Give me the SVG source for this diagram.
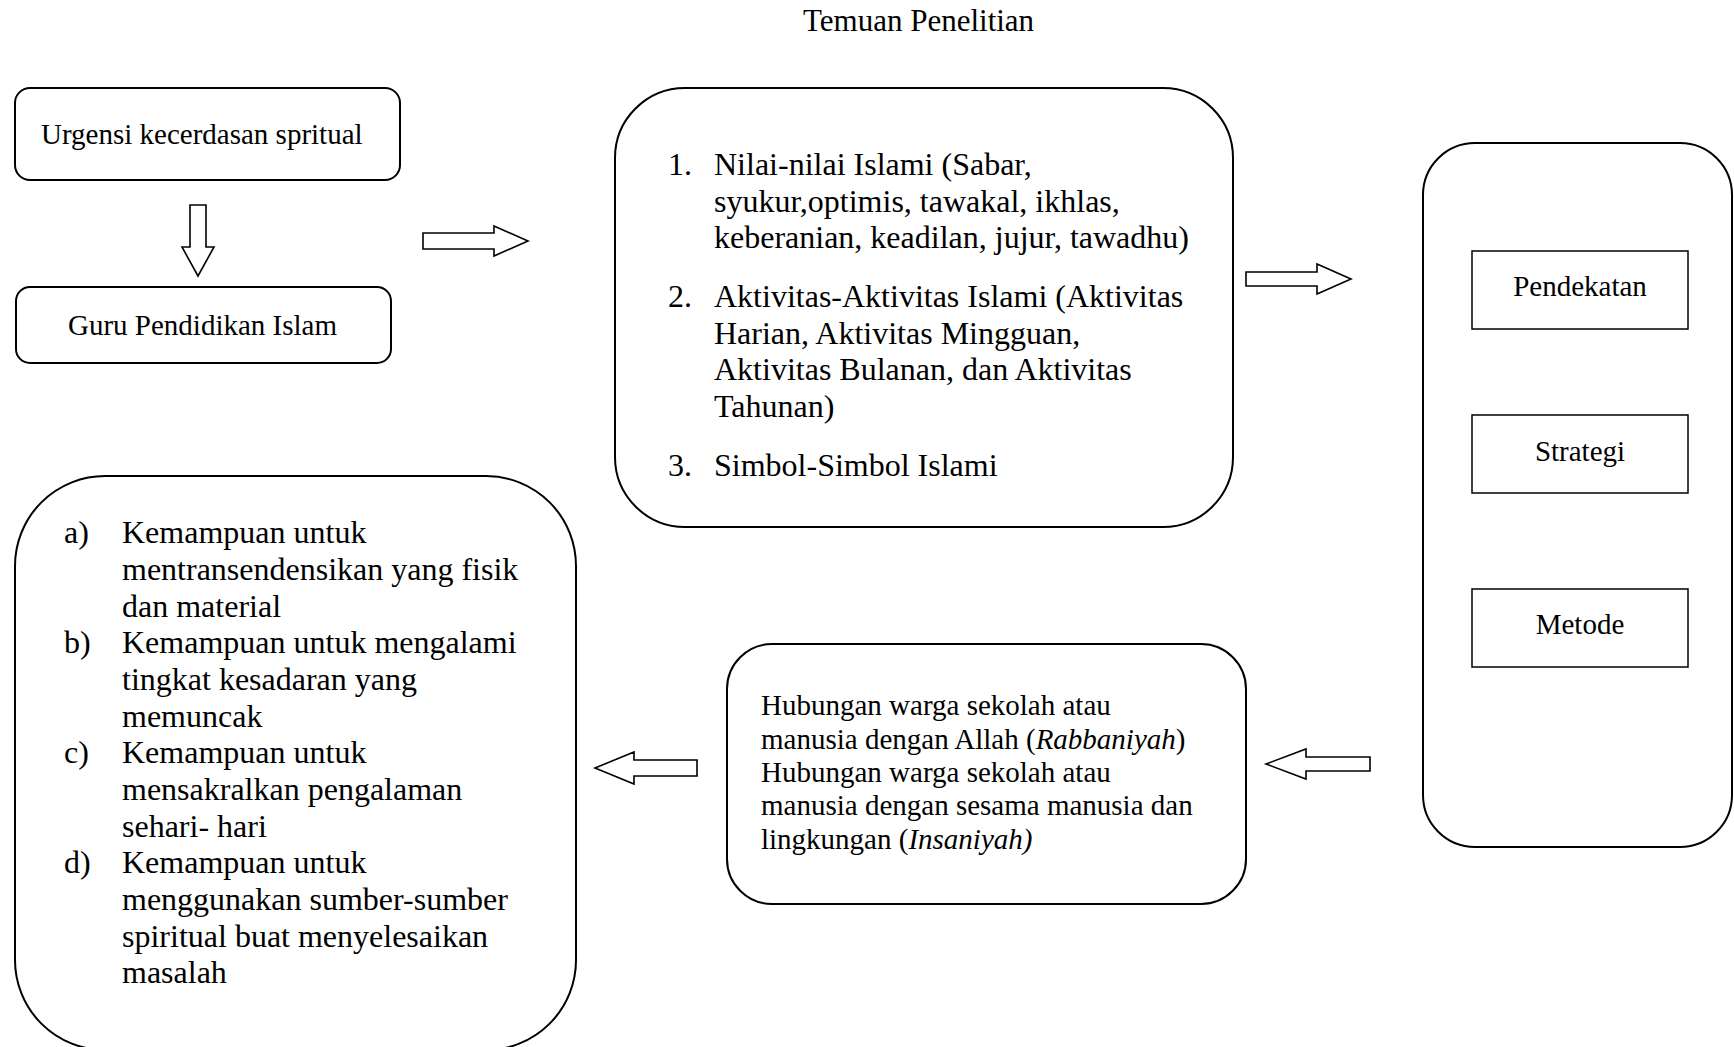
<svg xmlns="http://www.w3.org/2000/svg" width="1734" height="1047" viewBox="0 0 1734 1047">
  <style>
    text { font-family: "Liberation Serif", "Times New Roman", serif; fill: #000; }
    .t29 { font-size: 29px; }
    .t32 { font-size: 32px; }
    .t31 { font-size: 31px; }
    .box { fill: #fff; stroke: #000; stroke-width: 2; }
    .rect { fill: #fff; stroke: #000; stroke-width: 1.5; }
    .arrow { fill: #fff; stroke: #000; stroke-width: 1.6; stroke-linejoin: miter; }
    .it { font-style: italic; }
  </style>

  <rect width="1734" height="1047" fill="#fff"/>

  <text id="title" class="t31" x="803" y="31">Temuan Penelitian</text>

  <g id="urgensi">
    <rect class="box" x="15" y="88" width="385" height="92" rx="15"/>
    <text class="t29" x="41" y="144">Urgensi kecerdasan spritual</text>
  </g>

  <g id="guru">
    <rect class="box" x="16" y="287" width="375" height="76" rx="14"/>
    <text class="t29" x="68" y="335">Guru Pendidikan Islam</text>
  </g>

  <g id="temuan">
    <rect class="box" x="615" y="88" width="618" height="439" rx="70"/>
    <g class="t32">
      <text x="668" y="175">1.</text>
      <text x="714" y="175">Nilai-nilai Islami (Sabar,</text>
      <text x="714" y="211.5">syukur,optimis, tawakal, ikhlas,</text>
      <text x="714" y="248">keberanian, keadilan, jujur, tawadhu)</text>
      <text x="668" y="307">2.</text>
      <text x="714" y="307">Aktivitas-Aktivitas Islami (Aktivitas</text>
      <text x="714" y="343.5">Harian, Aktivitas Mingguan,</text>
      <text x="714" y="380">Aktivitas Bulanan, dan Aktivitas</text>
      <text x="714" y="416.5">Tahunan)</text>
      <text x="668" y="475.5">3.</text>
      <text x="714" y="475.5">Simbol-Simbol Islami</text>
    </g>
  </g>

  <g id="komponen">
    <rect class="box" x="1423" y="143" width="309" height="704" rx="52"/>
    <g id="pendekatan">
      <rect class="rect" x="1472" y="251" width="216" height="78"/>
      <text class="t29" x="1580" y="296" text-anchor="middle">Pendekatan</text>
    </g>
    <g id="strategi">
      <rect class="rect" x="1472" y="415" width="216" height="78"/>
      <text class="t29" x="1580" y="461" text-anchor="middle">Strategi</text>
    </g>
    <g id="metode">
      <rect class="rect" x="1472" y="589" width="216" height="78"/>
      <text class="t29" x="1580" y="634" text-anchor="middle">Metode</text>
    </g>
  </g>

  <g id="hubungan">
    <rect class="box" x="727" y="644" width="519" height="260" rx="45"/>
    <g class="t29">
      <text x="761" y="715">Hubungan warga sekolah atau</text>
      <text x="761" y="748.5">manusia dengan Allah (<tspan class="it">Rabbaniyah</tspan>)</text>
      <text x="761" y="782">Hubungan warga sekolah atau</text>
      <text x="761" y="815">manusia dengan sesama manusia dan</text>
      <text x="761" y="848.5">lingkungan (<tspan class="it">Insaniyah)</tspan></text>
    </g>
  </g>

  <g id="kemampuan">
    <rect class="box" x="15" y="476" width="561" height="574" rx="90"/>
    <g class="t32">
      <text x="64" y="543">a)</text>
      <text x="122" y="543">Kemampuan untuk</text>
      <text x="122" y="580">mentransendensikan yang fisik</text>
      <text x="122" y="617">dan material</text>
      <text x="64" y="653">b)</text>
      <text x="122" y="653">Kemampuan untuk mengalami</text>
      <text x="122" y="690">tingkat kesadaran yang</text>
      <text x="122" y="727">memuncak</text>
      <text x="64" y="763">c)</text>
      <text x="122" y="763">Kemampuan untuk</text>
      <text x="122" y="800">mensakralkan pengalaman</text>
      <text x="122" y="837">sehari- hari</text>
      <text x="64" y="873">d)</text>
      <text x="122" y="873">Kemampuan untuk</text>
      <text x="122" y="910">menggunakan sumber-sumber</text>
      <text x="122" y="947">spiritual buat menyelesaikan</text>
      <text x="122" y="983">masalah</text>
    </g>
  </g>

  <g id="connectors">
    <!-- block arrow: urgensi down to guru -->
    <polygon class="arrow" points="190,205 206,205 206,247 214,247 198,276 182,247 190,247"/>
    <!-- block arrow: left column to temuan -->
    <polygon class="arrow" points="423,233 494,233 494,226 528,241 494,256 494,249 423,249"/>
    <!-- block arrow: temuan to komponen -->
    <polygon class="arrow" points="1246,272 1317,272 1317,264 1351,279 1317,294 1317,286 1246,286"/>
    <!-- block arrow: komponen to hubungan -->
    <polygon class="arrow" points="1370,757 1306,757 1306,749 1266,764 1306,779 1306,771 1370,771"/>
    <!-- block arrow: hubungan to kemampuan -->
    <polygon class="arrow" points="697,760 634,760 634,752 595,768 634,784 634,776 697,776"/>
  </g>
</svg>
